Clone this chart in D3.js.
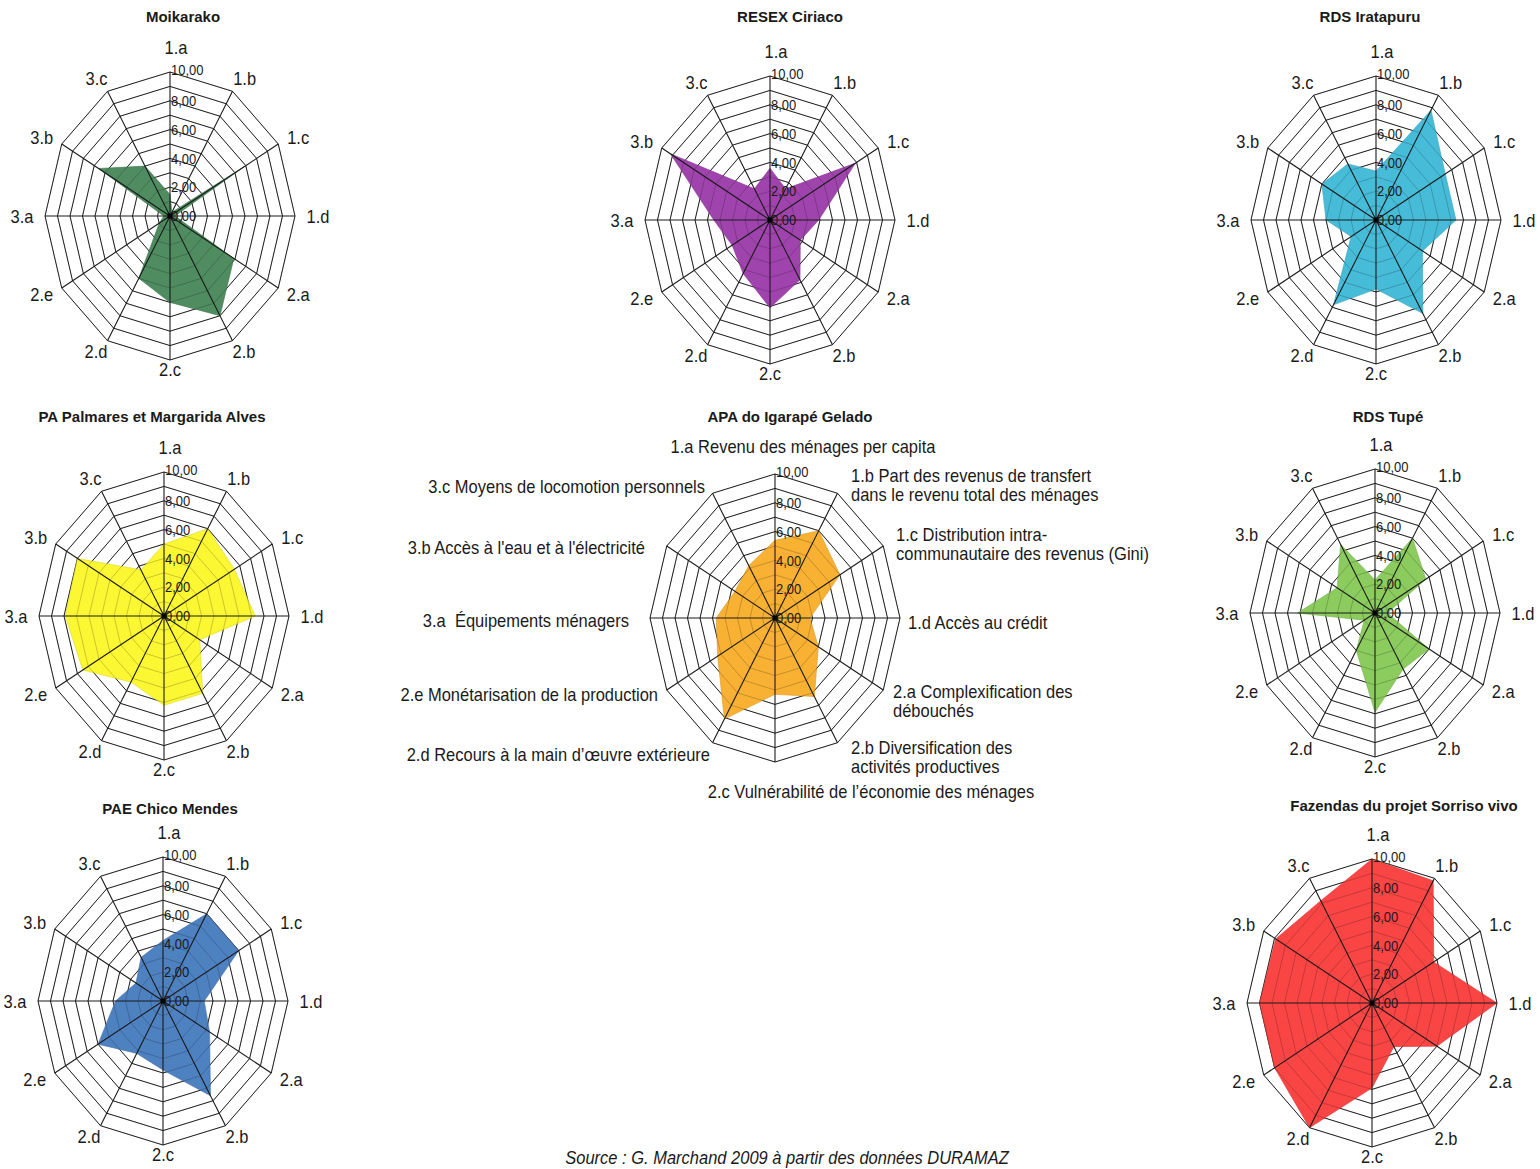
<!DOCTYPE html>
<html><head><meta charset="utf-8">
<script src="https://cdn.jsdelivr.net/npm/d3@7"></script>
<style>
body{margin:0;background:#fff}
svg text{font-family:"Liberation Sans",Arial,sans-serif;fill:#1a1a1a}
</style>
</head><body>
<svg id="c" width="1540" height="1169"></svg>
<script>
// ---------- DATA ----------
const axes = ["1.a","1.b","1.c","1.d","2.a","2.b","2.c","2.d","2.e","3.a","3.b","3.c"];
const apaAxisLabels = [
  ["1.a Revenu des ménages per capita"],
  ["1.b Part des revenus de transfert","dans le revenu total des ménages"],
  ["1.c Distribution intra-","communautaire des revenus (Gini)"],
  ["1.d Accès au crédit"],
  ["2.a Complexification des","débouchés"],
  ["2.b Diversification des","activités productives"],
  ["2.c Vulnérabilité de l’économie des ménages"],
  ["2.d Recours à la main d’œuvre extérieure"],
  ["2.e Monétarisation de la production"],
  ["3.a\u00a0 Équipements ménagers"],
  ["3.b Accès à l'eau et à l'électricité"],
  ["3.c Moyens de locomotion personnels"]
];
const tickValues = [0,2,4,6,8,10];
const tickLabels = ["0,00","2,00","4,00","6,00","8,00","10,00"];
const ringValues = [1,2,3,4,5,6,7,8,9,10];

const titles = ["Moikarako","RESEX Ciriaco","RDS Iratapuru","PA Palmares et Margarida Alves",
  "APA do Igarapé Gelado","RDS Tupé","PAE Chico Mendes","Fazendas du projet Sorriso vivo"];

const moikarako   = [1.5,0.3,7.0,0.4,5.9,8.0,6.0,5.0,1.0,0.5,6.6,4.0];
const resexCiriaco= [3.6,2.5,7.9,3.9,2.8,4.8,6.1,4.3,3.5,4.5,9.2,2.5];
const rdsIratapuru= [3.4,8.8,6.4,6.4,4.3,7.5,4.8,6.8,2.3,4.0,5.0,4.5];
const paPalmares  = [5.0,7.0,6.5,7.3,3.3,6.2,6.2,5.3,7.5,7.9,8.0,3.7];
const apaIgarape  = [5.4,7.0,6.0,2.8,4.0,6.3,5.3,8.1,5.3,4.7,3.7,4.2];
const rdsTupe     = [2.3,6.0,4.7,1.0,5.0,4.5,6.9,3.0,1.0,6.2,3.5,5.5];
const paeChico    = [4.2,7.0,7.0,3.3,4.3,7.6,4.8,4.2,6.0,3.8,2.5,3.5];
const sorriso     = [10,9.8,5.7,10,6.0,3.5,5.9,10,9.0,9.0,8.9,8.2];

const seriesList = [moikarako,resexCiriaco,rdsIratapuru,paPalmares,apaIgarape,rdsTupe,paeChico,sorriso];
const colors = ["#4f8c60","#a044ad","#47bcd8","#fcf733","#f8b133","#8ccb5e","#4e81c0","#fa4545"];

// ---------- LAYOUT ----------
const layout = [
  {cx:170, cy:216, tx:183, ty:22},
  {cx:770, cy:220, tx:790, ty:22},
  {cx:1376,cy:220, tx:1370,ty:22},
  {cx:164, cy:616, tx:152, ty:422},
  {cx:775, cy:618, tx:790, ty:422, long:true},
  {cx:1375,cy:613, tx:1388,ty:422},
  {cx:163, cy:1001,tx:170, ty:814},
  {cx:1372,cy:1003,tx:1404,ty:811}
];
// APA long-label placement: [dx, dy, anchor]
const apaLabelPos = [
  [28,-172,"middle"],[76,-133,"start"],[121,-74,"start"],[133,4,"start"],
  [118,83,"start"],[76,139,"start"],[96,173,"middle"],[-65,136,"end"],
  [-117,76,"end"],[-146,2,"end"],[-130,-71,"end"],[-70,-132,"end"]
];

const RX = 125, RY = 144, VS = 1.15;
const rx = d3.scaleLinear().domain([0,10]).range([0,RX]);
const ry = d3.scaleLinear().domain([0,10]).range([0,RY]);
const ang = d3.scaleLinear().domain([0,axes.length]).range([0,2*Math.PI]);

const svg = d3.select("#c");

function pt(c, v, i){
  const a = ang(i);
  return [c.cx + rx(v)*Math.sin(a), c.cy - ry(v)*Math.cos(a)];
}
const closed = d3.line().curve(d3.curveLinearClosed);

function stretchedText(g, x, y, lines, size, anchor, lh){
  const grp = g.append("g").attr("transform",`translate(${x},${y}) scale(1,${VS})`);
  const t = grp.append("text").attr("text-anchor",anchor).style("font-size",size+"px")
    .attr("xml:space","preserve");
  const n = lines.length;
  lines.forEach((s,k)=>{
    t.append("tspan").attr("x",0)
     .attr("y", (k-(n-1)/2)*lh/VS)
     .attr("dy","0.35em").text(s);
  });
}

layout.forEach((c, ci)=>{
  const g = svg.append("g");
  const vals = seriesList[ci];

  // rings
  g.selectAll("path.ring").data(ringValues).join("path")
    .attr("class","ring")
    .attr("d", r => closed(axes.map((_,i)=>pt(c,r,i))))
    .attr("fill","none").attr("stroke","#2a2a2a").attr("stroke-width",1);

  // data polygon
  g.append("path")
    .attr("d", closed(vals.map((v,i)=>pt(c,v,i))))
    .attr("fill", colors[ci]).attr("stroke", d3.color(colors[ci]).darker(0.4)).attr("stroke-width",0.6);

  // rings visible through fill
  g.selectAll("path.ring2").data(ringValues).join("path")
    .attr("class","ring2")
    .attr("d", r => closed(axes.map((_,i)=>pt(c,r,i))))
    .attr("fill","none").attr("stroke","rgba(0,0,0,0.2)").attr("stroke-width",1);

  // spokes
  g.selectAll("line.spoke").data(axes).join("line")
    .attr("class","spoke")
    .attr("x1",c.cx).attr("y1",c.cy)
    .attr("x2",(d,i)=>pt(c,10,i)[0]).attr("y2",(d,i)=>pt(c,10,i)[1])
    .attr("stroke","#1a1a1a").attr("stroke-width",1.1);

  // center dot
  g.append("rect").attr("x",c.cx-2.5).attr("y",c.cy-2.5).attr("width",5).attr("height",5).attr("fill","#000");

  // tick labels
  tickValues.forEach((t,k)=>{
    stretchedText(g, c.cx+1, c.cy - ry(t) - (t===10?2:0), [tickLabels[k]], 13, "start", 14);
  });

  // axis labels
  axes.forEach((a,i)=>{
    const th = ang(i);
    if(c.long){
      const p = apaLabelPos[i];
      stretchedText(g, c.cx+p[0], c.cy+p[1], apaAxisLabels[i], 16.5, p[2], 19.5);
    } else {
      const cs = Math.cos(th), sn = Math.sin(th);
      const top = Math.pow(Math.max(cs,0),16);
      const bot = Math.pow(Math.max(-cs,0),16);
      const x = c.cx + 148*sn + 6*top;
      const y = c.cy - 157*cs - 12*top - 4*bot;
      stretchedText(g, x, y, [a], 16.5, "middle", 18);
    }
  });

  // title
  g.append("text").attr("x",c.tx).attr("y",c.ty).attr("text-anchor","middle")
    .style("font-size","15px").style("font-weight","bold").text(titles[ci]);
});

// source
const sg = svg.append("g").attr("transform",`translate(787,1157) scale(1,${VS})`);
sg.append("text").attr("text-anchor","middle").attr("dy","0.35em")
  .style("font-size","16.5px").style("font-style","italic")
  .text("Source : G. Marchand 2009 à partir des données DURAMAZ");
</script>
</body></html>
